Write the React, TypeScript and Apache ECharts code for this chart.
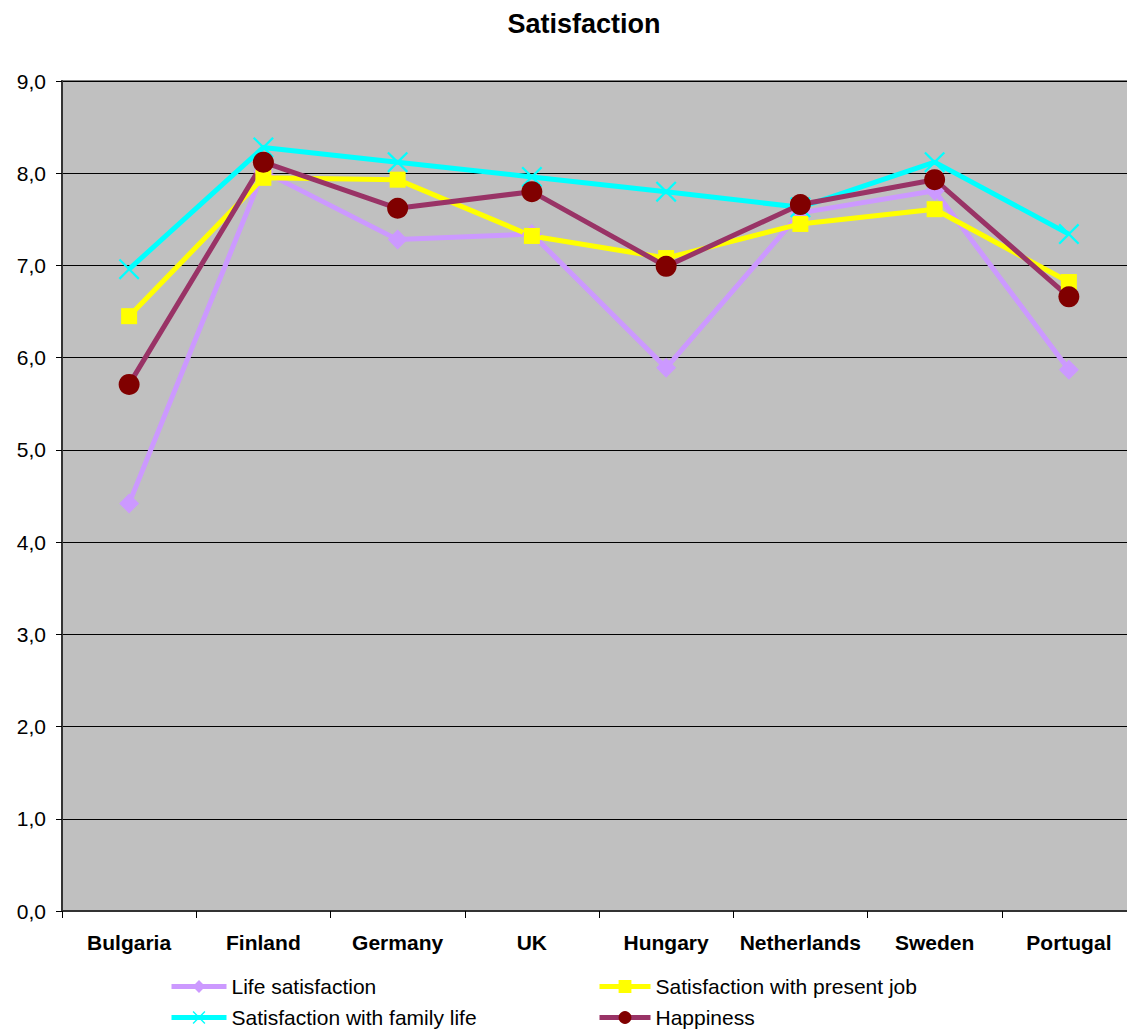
import React, { useEffect, useRef } from "react";
import * as echarts from "echarts";

const categories = ["Bulgaria", "Finland", "Germany", "UK", "Hungary", "Netherlands", "Sweden", "Portugal"];
const lifeSatisfaction = [4.42, 8.02, 7.28, 7.34, 5.89, 7.57, 7.81, 5.87];
const jobSatisfaction = [6.45, 7.95, 7.93, 7.32, 7.08, 7.45, 7.61, 6.82];
const familySatisfaction = [6.96, 8.28, 8.12, 7.96, 7.80, 7.63, 8.12, 7.34];
const happiness = [5.71, 8.12, 7.62, 7.80, 6.99, 7.66, 7.93, 6.66];
const seriesNames = ["Life satisfaction", "Satisfaction with present job", "Satisfaction with family life", "Happiness"];

const X_PATH = "path://M0,1.5 L1.5,0 L10,8.5 L18.5,0 L20,1.5 L11.5,10 L20,18.5 L18.5,20 L10,11.5 L1.5,20 L0,18.5 L8.5,10 Z";

export default function App() {
  const ref = useRef<HTMLDivElement>(null);
  useEffect(() => {
    document.body.style.margin = "0";
    document.body.style.overflow = "hidden";
    document.documentElement.style.overflow = "hidden";
    const chart = echarts.init(ref.current!, null, { renderer: "svg" });
    const font = "Arial, 'Liberation Sans', sans-serif";
    const legendText = { fontFamily: font, fontSize: 21, color: "#000", lineHeight: 21 };
    chart.setOption({
      animation: false,
      backgroundColor: "#fff",
      title: {
        text: "Satisfaction",
        left: 579,
        textAlign: "center",
        top: 5,
        textStyle: { fontFamily: font, fontSize: 27, fontWeight: "bold", color: "#000" },
      },
      legend: [
        {
          data: [seriesNames[0], seriesNames[2]],
          orient: "vertical",
          left: 169,
          top: 976,
          itemWidth: 55,
          itemHeight: 16,
          itemGap: 10,
          padding: 0,
          lineStyle: { width: 5 },
          textStyle: legendText,
        },
        {
          data: [seriesNames[1], seriesNames[3]],
          orient: "vertical",
          left: 597,
          top: 976,
          itemWidth: 51,
          itemHeight: 16,
          itemGap: 10,
          padding: 0,
          lineStyle: { width: 5 },
          textStyle: legendText,
        },
      ],
      grid: {
        left: 62,
        top: 81,
        width: 1074,
        height: 830,
        show: true,
        backgroundColor: "#c0c0c0",
        borderColor: "#808080",
        borderWidth: 2,
        containLabel: false,
      },
      xAxis: {
        type: "category",
        data: categories,
        boundaryGap: true,
        axisLine: { lineStyle: { color: "#333", width: 2 } },
        axisTick: { show: true, interval: 0, length: 7, lineStyle: { color: "#000" } },
        axisLabel: { interval: 0, fontFamily: font, fontSize: 21, fontWeight: "bold", color: "#000", margin: 21 },
      },
      yAxis: {
        type: "value",
        min: 0,
        max: 9,
        interval: 1,
        axisLine: { show: true, lineStyle: { color: "#333", width: 2 } },
        axisTick: { show: true, length: 6, lineStyle: { color: "#000" } },
        axisLabel: {
          fontFamily: font,
          fontSize: 21,
          color: "#000",
          margin: 16,
          formatter: (v: number) => v.toFixed(1).replace(".", ","),
        },
        splitLine: { show: true, lineStyle: { color: "#000", width: 1 } },
      },
      series: [
        {
          name: seriesNames[0],
          type: "line",
          data: lifeSatisfaction,
          symbol: "diamond",
          symbolSize: 20,
          lineStyle: { color: "#cc99ff", width: 5 },
          itemStyle: { color: "#cc99ff" },
        },
        {
          name: seriesNames[1],
          type: "line",
          data: jobSatisfaction,
          symbol: "rect",
          symbolSize: 16,
          lineStyle: { color: "#ffff00", width: 5 },
          itemStyle: { color: "#ffff00" },
        },
        {
          name: seriesNames[2],
          type: "line",
          data: familySatisfaction,
          symbol: X_PATH,
          symbolSize: 21,
          lineStyle: { color: "#00ffff", width: 5 },
          itemStyle: { color: "#00ffff" },
        },
        {
          name: seriesNames[3],
          type: "line",
          data: happiness,
          symbol: "circle",
          symbolSize: 21,
          lineStyle: { color: "#993366", width: 5 },
          itemStyle: { color: "#800000" },
        },
      ],
    });
    return () => chart.dispose();
  }, []);
  return <div ref={ref} style={{ width: 1140, height: 1029 }} />;
}
